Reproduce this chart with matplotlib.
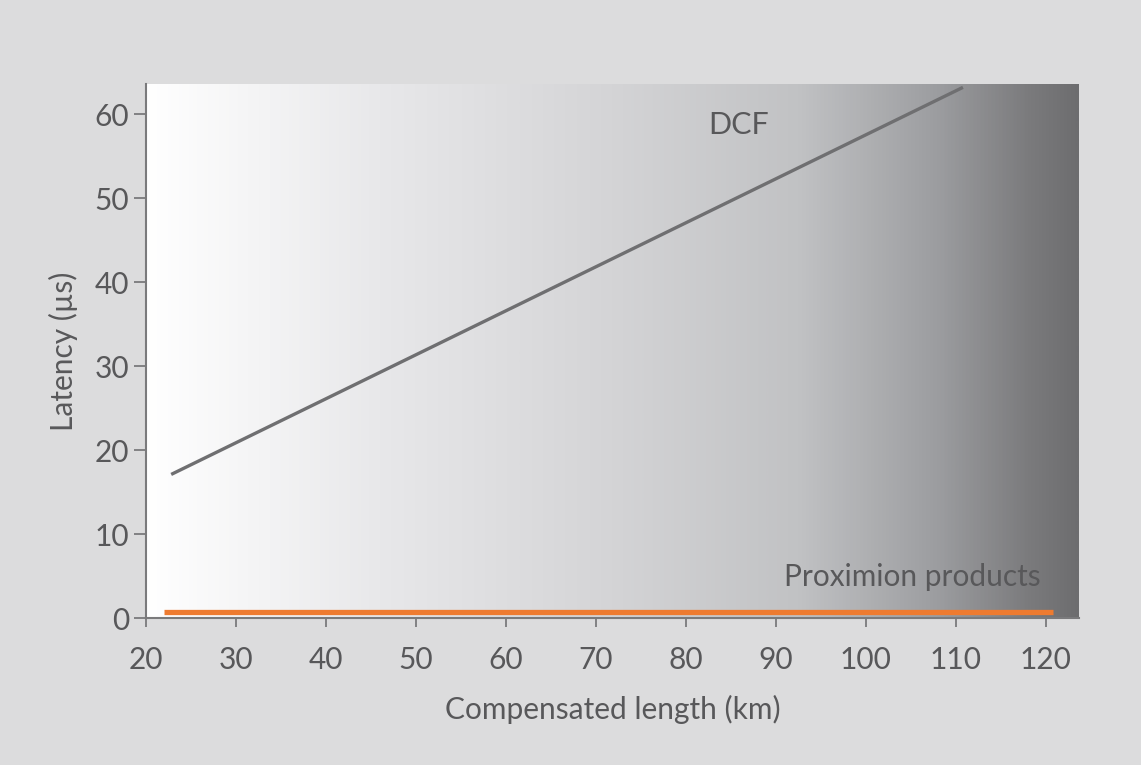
import numpy as np
import matplotlib.pyplot as plt
from matplotlib.colors import LinearSegmentedColormap

plt.rcParams['font.family'] = ['Lato', 'DejaVu Sans']

# data
dcf_x = [22.8, 110.8]
dcf_y = [17.1, 63.2]
prox_x = [22.0, 120.8]
prox_y = [0.7, 0.7]
xticks = [20, 30, 40, 50, 60, 70, 80, 90, 100, 110, 120]
yticks = [0, 10, 20, 30, 40, 50, 60]

txt = '#58585a'
fig = plt.figure(figsize=(11.41, 7.65), dpi=100, facecolor='#dcdcdd')
ax = fig.add_axes([146/1141, 1 - 618/765, 933/1141, 534/765])
ax.set_xlim(20, 123.7)
ax.set_ylim(0, 63.6)

# background gradient, light on the left, dark on the right
grad = LinearSegmentedColormap.from_list('bg', [
    (0.0, '#ffffff'), (0.25, '#e8e8ea'), (0.5, '#d4d4d6'),
    (0.7, '#c1c2c4'), (0.85, '#9c9da0'), (0.95, '#7a7a7c'), (1.0, '#6d6d6f')])
ax.imshow(np.linspace(0, 1, 512).reshape(1, -1), cmap=grad, aspect='auto',
          extent=[20, 123.7, 0, 63.6], zorder=0)

ax.plot(dcf_x, dcf_y, color='#6f6f71', lw=2.4, solid_capstyle='butt', zorder=2, clip_on=False)
ax.plot(prox_x, prox_y, color='#ee7b30', lw=3.8, solid_capstyle='butt', zorder=3)

ax.text(85.9, 58.7, 'DCF', fontsize=22, color=txt, ha='center', va='center')
ax.text(105.2, 4.9, 'Proximion products', fontsize=21.5, color=txt, ha='center', va='center')

for s in ['top', 'right']:
    ax.spines[s].set_visible(False)
for s in ['left', 'bottom']:
    ax.spines[s].set_color('#7a7a7c')
    ax.spines[s].set_linewidth(1.5)

ax.set_xticks(xticks)
ax.set_yticks(yticks)
ax.tick_params(colors='#7a7a7c', labelcolor=txt, labelsize=21.5, width=1.3)
ax.tick_params(axis='x', length=6.5, pad=14)
ax.tick_params(axis='y', length=9, pad=3)
ax.set_xlabel('Compensated length (km)', fontsize=21.5, color=txt, labelpad=15)
ax.set_ylabel('Latency (µs)', fontsize=21.5, color=txt, labelpad=12)

fig.savefig('out.png', dpi=100, facecolor=fig.get_facecolor())
